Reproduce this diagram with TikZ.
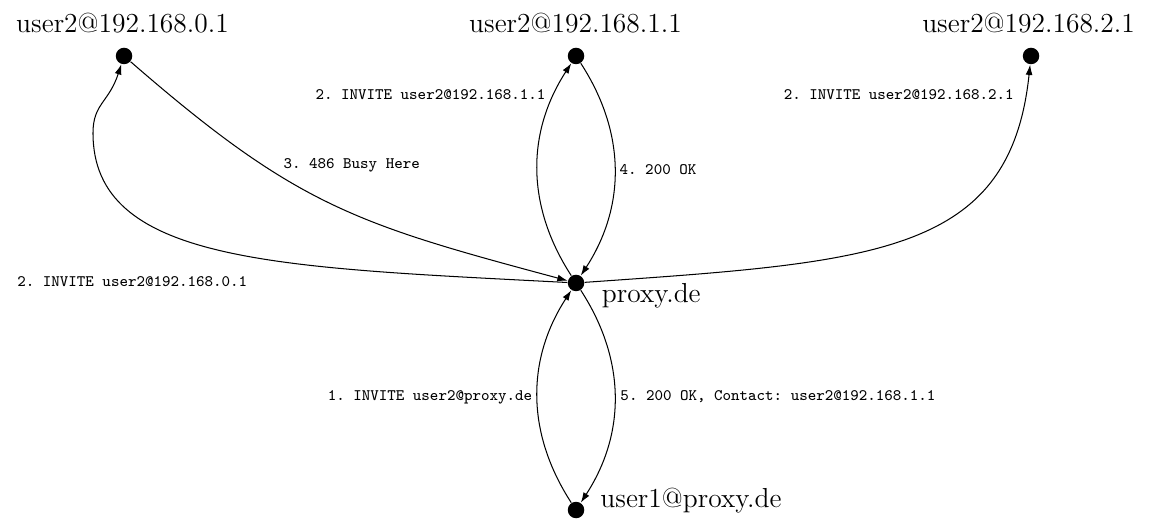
\documentclass[tikz,border=0pt]{standalone}
\usepackage{tikz}
\usetikzlibrary{arrows.meta,calc}
\tikzstyle{every node}=[font=\large]
\tikzstyle{host}=[circle,fill=black,inner sep=0pt,minimum size=7.2pt]
\tikzstyle{hostname}=[inner sep=0pt,anchor=base]
\tikzstyle{sipmsg}=[font=\scriptsize\ttfamily\frenchspacing,inner sep=0pt,anchor=base]
\tikzstyle{sip}=[-{Latex[length=4.5pt,width=3pt]},line width=0.45pt]

\begin{document}
\begin{tikzpicture}
    \useasboundingbox (0,0) rectangle (17.754,8.025);
    % hosts
    \node[host] (u01) at (1.903,7.166) {};
    \node[host] (u11) at (8.839,7.166) {};
    \node[host] (u21) at (15.821,7.166) {};
    \node[host] (proxy) at (8.839,3.683) {};
    \node[host] (u1) at (8.839,0.199) {};
    \node[hostname] (l01) at (1.880,7.519) {user2@192.168.0.1};
    \node[hostname] (l11) at (8.831,7.519) {user2@192.168.1.1};
    \node[hostname] (l21) at (15.783,7.519) {user2@192.168.2.1};
    \node[hostname,anchor=base west] (lproxy) at (9.230,3.376) {proxy.de};
    \node[hostname,anchor=base west] (lu1) at (9.207,0.230) {user1@proxy.de};
    \coordinate (w01) at (1.427,5.985);
    % messages
    \draw[sip] (u1) to[bend left=33] (proxy);
    \draw[sip] (proxy) to[bend left=33] (u1);
    \draw[sip] (proxy) to[bend left=33] (u11);
    \draw[sip] (u11) to[bend left=33] (proxy);
    \draw[sip] (proxy) .. controls +(177:4.6) and +(-90:2.0) .. (w01)
                       .. controls +(90:0.45) and +(-108:0.75) .. (u01);
    \draw[sip] (u01) to[out=-41,in=165,looseness=1.15] (proxy);
    \draw[sip] (proxy) .. controls +(4:4.6) and +(-96:3.07) .. (u21);
    \node[sipmsg] (m1) at (6.598,1.887) {1. INVITE user2@proxy.de};
    \node[sipmsg] (m2a) at (2.030,3.626) {2. INVITE user2@192.168.0.1};
    \node[sipmsg] (m2b) at (6.606,6.491) {2. INVITE user2@192.168.1.1};
    \node[sipmsg] (m2c) at (13.791,6.491) {2. INVITE user2@192.168.2.1};
    \node[sipmsg] (m3) at (5.397,5.447) {3. 486 Busy Here};
    \node[sipmsg] (m4) at (10.097,5.340) {4. 200 OK};
    \node[sipmsg] (m5) at (11.938,1.887) {5. 200 OK, Contact: user2@192.168.1.1};
\end{tikzpicture}
\end{document}
